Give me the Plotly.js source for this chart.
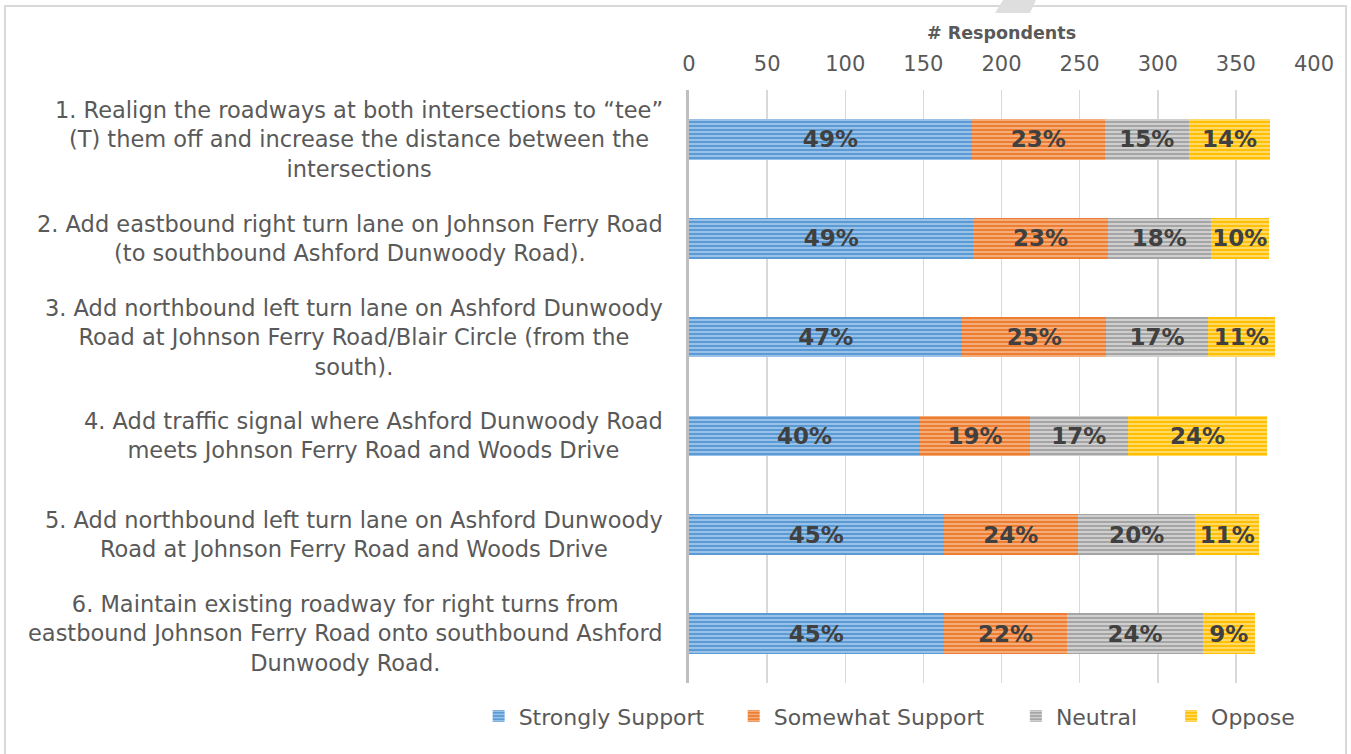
<!DOCTYPE html>
<html>
<head>
<meta charset="utf-8">
<script src="https://cdn.plot.ly/plotly-3.0.1.min.js"></script>
<style>
  html, body { margin: 0; padding: 0; background: #ffffff; }
  #frame { position: absolute; left: 4px; top: 5px; width: 1343px; height: 760px; border: 2px solid #D9D9D9; box-sizing: border-box; }
  #tab { position: absolute; left: 0; top: 0; }
  #chart { position: absolute; left: 0; top: 0; width: 1351px; height: 754px; }
</style>
</head>
<body>
<div id="frame"></div>
<svg id="tab" width="1351" height="20"><polygon points="1003,0 1036,0 1030,13 995,13" fill="#DEDEDE"/></svg>
<div id="chart"></div>
<script>
// ---- data ----
const questions = [
  "1. Realign the roadways at both intersections to “tee”<br>(T) them off and increase the distance between the<br>intersections",
  "2. Add eastbound right turn lane on Johnson Ferry Road<br>(to southbound Ashford Dunwoody Road).",
  "3. Add northbound left turn lane on Ashford Dunwoody<br>Road at Johnson Ferry Road/Blair Circle (from the<br>south).",
  "4. Add traffic signal where Ashford Dunwoody Road<br>meets Johnson Ferry Road and Woods Drive",
  "5. Add northbound left turn lane on Ashford Dunwoody<br>Road at Johnson Ferry Road and Woods Drive",
  "6. Maintain existing roadway for right turns from<br>eastbound Johnson Ferry Road onto southbound Ashford<br>Dunwoody Road."
];
const categories = ["Q1", "Q2", "Q3", "Q4", "Q5", "Q6"];
const seriesNames = ["Strongly Support", "Somewhat Support", "Neutral", "Oppose"];
const stronglySupport = [181, 182, 175, 148, 163, 163];
const somewhatSupport = [85, 86, 92, 70, 86, 79];
const neutral = [54, 66, 65, 63, 75, 87];
const oppose = [52, 37, 43, 89, 41, 33];
const stronglyPct = ["49%", "49%", "47%", "40%", "45%", "45%"];
const somewhatPct = ["23%", "23%", "25%", "19%", "24%", "22%"];
const neutralPct = ["15%", "18%", "17%", "17%", "20%", "24%"];
const opposePct = ["14%", "10%", "11%", "24%", "11%", "9%"];
const xTicks = [0, 50, 100, 150, 200, 250, 300, 350, 400];

// ---- styles ----
const FONT = "DejaVu Sans, Noto Sans, sans-serif";
const TXT = "#595959";
const colors = ["#5B9BD5", "#ED7D31", "#A5A5A5", "#FFC000"];
const lights = ["#B4D1EE", "#F8C19B", "#E2E2E2", "#FFE699"];
const legendIds = ["legend", "legend2", "legend3", "legend4"];
const legendX = [-0.3366, 0.0715, 0.523, 0.7713];
const values = [stronglySupport, somewhatSupport, neutral, oppose];
const pcts = [stronglyPct, somewhatPct, neutralPct, opposePct];

const traces = values.map((v, i) => ({
  type: "bar",
  orientation: "h",
  name: seriesNames[i],
  legend: legendIds[i],
  y: categories,
  x: v,
  text: pcts[i],
  textposition: "inside",
  insidetextanchor: "middle",
  constraintext: "none",
  textfont: { family: FONT, size: 23, color: "#404040", weight: "bold" },
  marker: {
    color: colors[i],
    line: { width: 0 },
    pattern: { shape: "-", bgcolor: colors[i], fgcolor: lights[i], size: 4, solidity: 0.35, fillmode: "replace" }
  },
  hoverinfo: "skip"
}));

const annotations = questions.map((q, i) => ({
  xref: "paper", yref: "y",
  x: -0.038, y: categories[i],
  xanchor: "right", yanchor: "middle",
  align: "center",
  text: q,
  showarrow: false,
  font: { family: FONT, size: 22.5, color: TXT }
}));

const layout = {
  width: 1351, height: 754,
  paper_bgcolor: "rgba(0,0,0,0)",
  plot_bgcolor: "rgba(0,0,0,0)",
  margin: { l: 689, r: 37, t: 90, b: 71 },
  barmode: "stack",
  bargap: 0.59,
  font: { family: FONT, color: TXT },
  showlegend: true,
  xaxis: {
    side: "top",
    range: [0, 400],
    tickvals: xTicks,
    ticktext: xTicks.map(String),
    showgrid: true,
    gridcolor: "#D9D9D9",
    gridwidth: 1.5,
    zeroline: false,
    showline: false,
    ticks: "outside",
    ticklen: 10,
    tickcolor: "rgba(0,0,0,0)",
    tickfont: { family: FONT, size: 21, color: TXT },
    title: { text: "<b># Respondents</b>", font: { family: FONT, size: 17.5, color: TXT }, standoff: 7 },
    fixedrange: true
  },
  yaxis: {
    type: "category",
    autorange: "reversed",
    showticklabels: false,
    showgrid: false,
    zeroline: false,
    showline: true,
    linecolor: "#BFBFBF",
    linewidth: 3,
    ticks: "",
    fixedrange: true
  },
  annotations: annotations
};

legendIds.forEach((id, i) => {
  layout[id] = {
    orientation: "h",
    x: legendX[i], xanchor: "left",
    y: -0.056, yanchor: "middle",
    font: { family: FONT, size: 22, color: TXT },
    bgcolor: "rgba(0,0,0,0)",
    itemclick: false
  };
});

Plotly.newPlot("chart", traces, layout, { displayModeBar: false, staticPlot: true });
</script>
</body>
</html>
